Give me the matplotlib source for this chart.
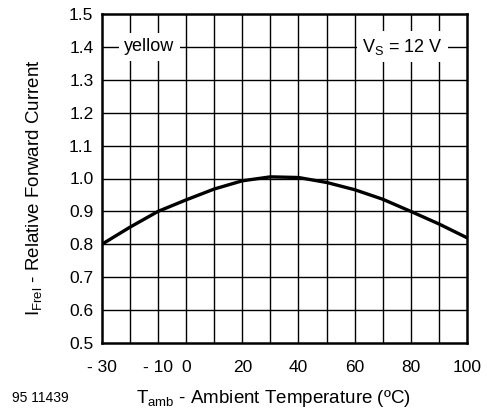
import matplotlib

matplotlib.use("Agg")
import matplotlib.pyplot as plt

plt.rcParams["font.family"] = ["Liberation Sans", "DejaVu Sans"]

# relative forward current vs ambient temperature (yellow, Vs = 12 V)
temp_c = [-30, -20, -10, 0, 10, 20, 30, 40, 50, 60, 70, 80, 90, 100]
i_frel = [0.80, 0.852, 0.90, 0.935, 0.968, 0.993, 1.005, 1.003, 0.988, 0.966, 0.937, 0.90, 0.862, 0.82]

x_ticks = [-30, -10, 0, 20, 40, 60, 80, 100]
x_tick_labels = ["- 30", "- 10", "0", "20", "40", "60", "80", "100"]
y_ticks = [0.5, 0.6, 0.7, 0.8, 0.9, 1.0, 1.1, 1.2, 1.3, 1.4, 1.5]

fig = plt.figure(figsize=(4.87, 4.08), dpi=100)
ax = fig.add_axes([0.209, 0.159, 0.75, 0.807])

# grid every 10 degC / 0.1
for x in range(-20, 100, 10):
    ax.axvline(x, color="black", lw=1.0, zorder=1)
for y in y_ticks[1:-1]:
    ax.axhline(y, color="black", lw=1.0, zorder=1)

ax.plot(temp_c, i_frel, color="black", lw=2.4, zorder=3)

ax.set_xlim(-30, 100)
ax.set_ylim(0.5, 1.5)
ax.set_xticks(x_ticks)
ax.set_xticklabels(x_tick_labels)
ax.set_yticks(y_ticks)
ax.set_yticklabels([f"{v:.1f}" for v in y_ticks])
ax.tick_params(length=0, labelsize=12.5)
ax.tick_params(axis="x", pad=12)
ax.tick_params(axis="y", pad=6)
for s in ax.spines.values():
    s.set_linewidth(1.8)

box = dict(facecolor="white", edgecolor="none", pad=4)
ax.text(-13, 1.4, "yellow", fontsize=13, ha="center", va="center", bbox=box, zorder=4)
ax.text(77, 1.4, "V$_\\mathregular{S}$ = 12 V", fontsize=13, ha="center", va="center", bbox=box, zorder=4)

ax.set_xlabel("T$_\\mathregular{amb}$ - Ambient Temperature (ºC)", fontsize=13.5)
ax.set_ylabel("I$_\\mathregular{Frel}$ - Relative Forward Current", fontsize=13.5)
ax.xaxis.set_label_coords(0.471, -0.135)
ax.yaxis.set_label_coords(-0.155, 0.471)
fig.text(0.025, 0.015, "95 11439", fontsize=10)

fig.savefig("out.png", dpi=100)
